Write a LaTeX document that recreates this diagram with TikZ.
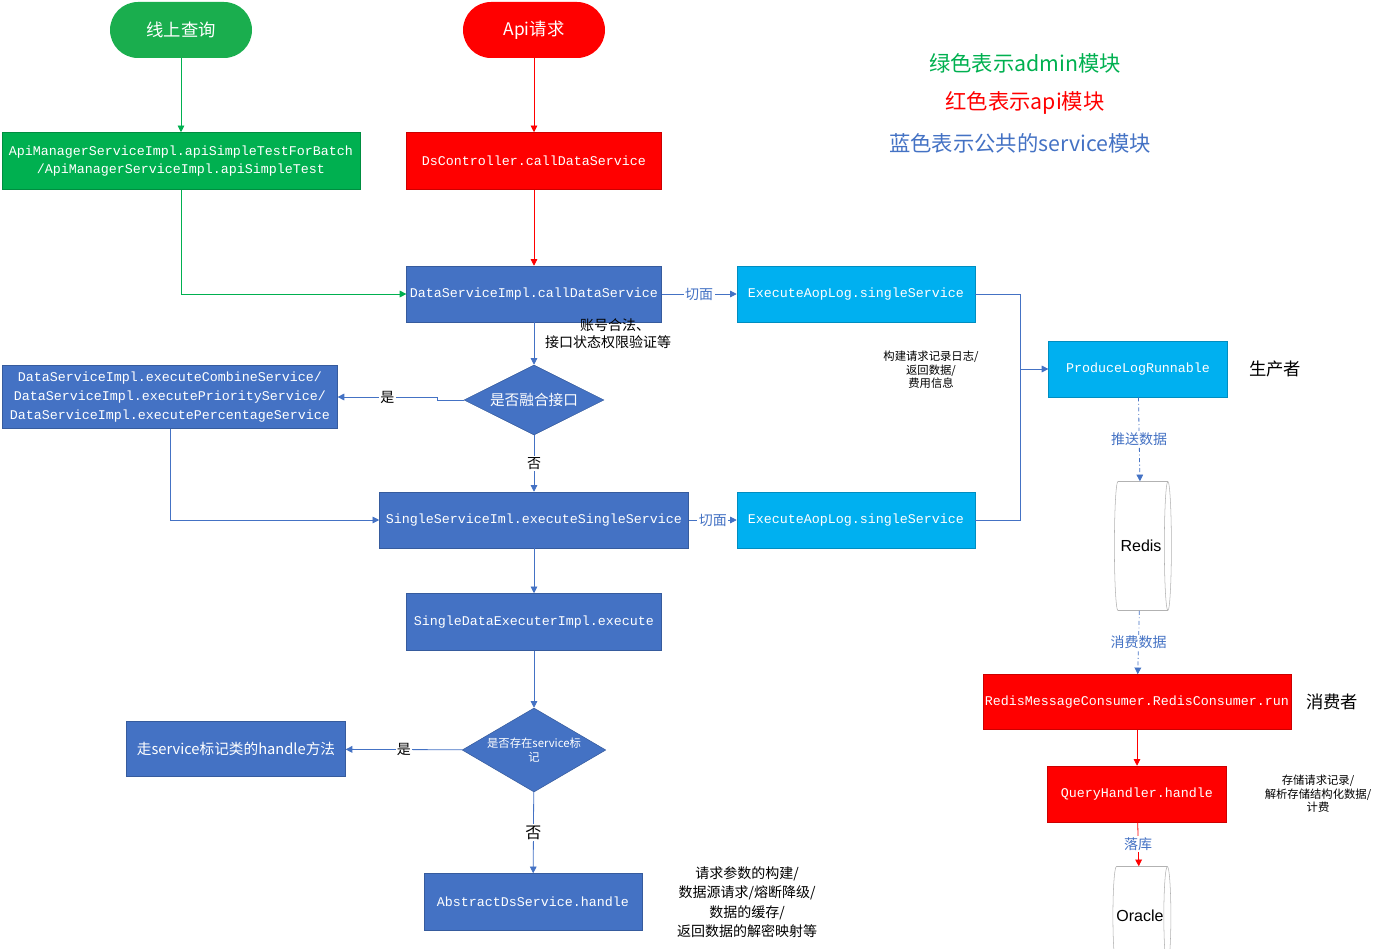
\documentclass[tikz,border=0pt]{standalone}
\usepackage{fontspec}
\setmainfont{Noto Sans CJK SC}
\setmonofont{Liberation Mono}
\newfontfamily\sansf{Liberation Sans}
\usetikzlibrary{shapes.geometric,arrows.meta}
\definecolor{gr}{HTML}{00B050}
\definecolor{rd}{HTML}{FF0000}
\definecolor{bl}{HTML}{4472C4}
\definecolor{cy}{HTML}{00B0F0}
\definecolor{lg}{HTML}{1AAE4E}
\begin{document}
\begin{tikzpicture}[x=0.75pt,y=-0.75pt,
 box/.style={draw=#1!80!black,line width=0.4pt,fill=#1,text=white,inner sep=0pt,font=\ttfamily\fontsize{10}{14}\selectfont,align=center},
 term/.style={draw=none,fill=#1,text=white,rounded corners=21pt,minimum width=106.5pt,minimum height=42pt,inner sep=0pt,font=\fontsize{13}{15}\selectfont},
 dia/.style={diamond,aspect=2,fill=bl,draw=bl!80!black,text=white,inner sep=0pt,align=center},
 cyl/.style={cylinder,draw=gray!60,fill=white,aspect=0.6,inner sep=0pt,font=\sansf\fontsize{12}{14}\selectfont},
 arr/.style={draw=#1,line width=0.6pt,-{Triangle[length=5pt,width=5pt]}},
 ln/.style={draw=#1,line width=0.6pt},
 note/.style={font=\fontsize{8.5}{10}\selectfont,align=center},
 lbl/.style={font=\fontsize{10.5}{12}\selectfont,fill=white,inner sep=1pt}]
\useasboundingbox (0,0) rectangle (1389,949);
\node[term=lg] (q) at (181,30) {线上查询};
\node[term=rd] (api) at (534,30) {Api请求};
\node[box=gr,minimum width=268.5pt,minimum height=42.75pt] (g) at (181,161) {ApiManagerServiceImpl.apiSimpleTestForBatch\\/ApiManagerServiceImpl.apiSimpleTest};
\node[box=rd,minimum width=191pt,minimum height=42.75pt] (ds) at (534,161) {DsController.callDataService};
\node[box=bl,minimum width=191pt,minimum height=42pt] (call) at (534,294) {DataServiceImpl.callDataService};
\node[box=cy,minimum width=178.5pt,minimum height=42pt] (aop1) at (856,294) {ExecuteAopLog.singleService};
\node[box=cy,minimum width=134pt,minimum height=42pt] (prod) at (1138,369) {ProduceLogRunnable};
\node[font=\fontsize{13}{15}\selectfont] (sc) at (1275,369) {生产者};
\node[note] (n1) at (931,370) {构建请求记录日志/\\返回数据/\\费用信息};
\node[font=\fontsize{10.5}{13}\selectfont,align=center] (n2) at (608,334) {\hspace*{1em}账号合法、\\接口状态权限验证等};
\node[dia,minimum width=105pt,minimum height=52.5pt,font=\fontsize{11}{13}\selectfont] (d1) at (534,400) {是否融合接口};
\node[box=bl,minimum width=251pt,minimum height=47pt] (comb) at (170,397) {DataServiceImpl.executeCombineService/\\DataServiceImpl.executePriorityService/\\DataServiceImpl.executePercentageService};
\node[box=bl,minimum width=231.75pt,minimum height=42pt] (single) at (534,520) {SingleServiceIml.executeSingleService};
\node[box=cy,minimum width=178.5pt,minimum height=42pt] (aop2) at (856,520) {ExecuteAopLog.singleService};
\node[box=bl,minimum width=191pt,minimum height=42.75pt] (sde) at (534,622) {SingleDataExecuterImpl.execute};
\node[dia,minimum width=103.5pt,minimum height=63pt,font=\fontsize{8.5}{11}\selectfont] (d2) at (534,750) {是否存在service标\\记};
\node[box=bl,minimum width=164pt,minimum height=41pt,font=\fontsize{11}{13}\selectfont] (walk) at (236,749) {走service标记类的handle方法};
\node[box=bl,minimum width=163.5pt,minimum height=42.75pt] (abs) at (533,902) {AbstractDsService.handle};
\node[note,font=\fontsize{10.5}{14.5}\selectfont] (n3) at (747,902) {请求参数的构建/\\数据源请求/熔断降级/\\数据的缓存/\\返回数据的解密映射等};
\node[cyl,minimum width=96.75pt,minimum height=42.75pt] (redis) at (1141,546) {Redis};
\node[box=rd,minimum width=231pt,minimum height=41.25pt] (cons) at (1137,702) {RedisMessageConsumer.RedisConsumer.run};
\node[font=\fontsize{13}{15}\selectfont] (xf) at (1332,702) {消费者};
\node[box=rd,minimum width=134pt,minimum height=42pt] (qh) at (1137,794) {QueryHandler.handle};
\node[note] (n4) at (1318,794) {存储请求记录/\\解析存储结构化数据/\\计费};
\node[cyl,minimum width=74.25pt,minimum height=42.75pt] (ora) at (1140,916) {Oracle};
\node[font=\fontsize{16}{18}\selectfont,text=gr] (l1) at (1025,63) {绿色表示admin模块};
\node[font=\fontsize{16}{18}\selectfont,text=rd] (l2) at (1025,103) {红色表示api模块};
\node[font=\fontsize{16}{18}\selectfont,text=bl] (l3) at (1020,143) {蓝色表示公共的service模块};
% connectors
\draw[arr=gr] (q) -- (g);
\draw[arr=gr] (g.south) |- (call.west);
\draw[arr=rd] (api) -- (ds);
\draw[arr=rd] (ds) -- (call);
\draw[arr=bl] (call) -- node[lbl,text=bl] {切面} (aop1);
\draw[arr=bl] (call) -- (d1);
\draw[arr=bl] (d1) -- node[lbl] {否} (single);
\coordinate (j1) at (437,400);
\coordinate (j2) at (437,397);
\draw[arr=bl] (d1.west) -- (j1) -- (j2) -- node[lbl] {是} (comb.east);
\draw[arr=bl] (comb.south) |- (single.west);
\draw[arr=bl] (single) -- node[lbl,text=bl] {切面} (aop2);
\coordinate (r1) at (1020,294);
\coordinate (r2) at (1020,520);
\coordinate (r3) at (1020,369);
\draw[ln=bl] (aop1.east) -- (r1) -- (r2) -- (aop2.east);
\draw[arr=bl] (r3) -- (prod.west);
\draw[arr=bl] (single) -- (sde);
\draw[arr=bl] (sde) -- (d2);
\draw[arr=bl] (d2) -- node[lbl] {是} (walk);
\draw[arr=bl] (d2) -- node[lbl,font=\fontsize{12}{14}\selectfont] {否} (abs);
\draw[arr=bl,dash dot] (prod) -- node[lbl,text=bl] {推送数据} (redis);
\draw[arr=bl,dash dot] (redis) -- node[lbl,text=bl] {消费数据} (cons);
\draw[arr=rd] (cons) -- (qh);
\draw[arr=rd] (qh) -- node[lbl,text=bl] {落库} (ora);
\end{tikzpicture}
\end{document}
